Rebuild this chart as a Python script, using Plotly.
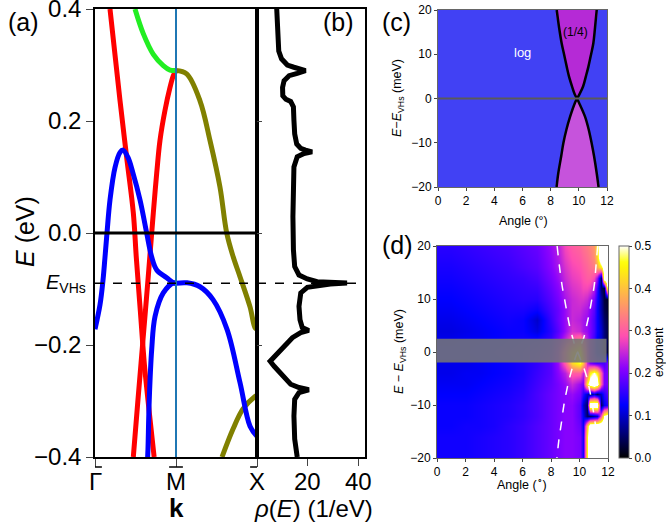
import plotly.graph_objects as go

FONT = "Liberation Sans, Arial, Helvetica, sans-serif"

# ---------------- (a) band structure (k path: Gamma=0, M=1, X=2) ----------------
K_TICKS = [0, 1, 2]
K_LABELS = ["\u0393", "M", "X"]
E_TICKS = [-0.4, -0.2, 0.0, 0.2, 0.4]
E_FERMI = 0.0
E_VHS = -0.0898
K_PATH = [0, 2]

K_RED_A = [0.185, 0.309, 0.391, 0.473, 0.51, 0.56, 0.61, 0.67, 0.73]
E_RED_A = [0.40, 0.236, 0.135, 0.036, -0.044, -0.14, -0.235, -0.32, -0.40]

K_RED_B = [0.473, 0.531, 0.593, 0.654, 0.70, 0.72, 0.762, 0.802, 0.864, 0.926, 0.967, 1.0]
E_RED_B = [-0.40, -0.297, -0.19, -0.084, 0.0, 0.036, 0.107, 0.165, 0.219, 0.26, 0.281, 0.29]

K_BLUE_1 = [0.0, 0.062, 0.099, 0.123, 0.148, 0.185, 0.247, 0.309, 0.346, 0.407, 0.469, 0.556,
            0.638, 0.70, 0.762, 0.885, 0.967, 1.0]
E_BLUE_1 = [-0.172, -0.128, -0.084, -0.044, 0.0, 0.059, 0.117, 0.144, 0.148, 0.135, 0.107, 0.059,
            0.0, -0.043, -0.066, -0.080, -0.089, -0.0898]

K_BLUE_2 = [1.0, 1.136, 1.296, 1.457, 1.630, 1.790, 1.914, 2.0]
E_BLUE_2 = [-0.0898, -0.089, -0.096, -0.119, -0.172, -0.267, -0.345, -0.363]

K_BLUE_3 = [1.0, 0.967, 0.843, 0.741, 0.700, 0.670, 0.654, 0.650]
E_BLUE_3 = [-0.0898, -0.089, -0.107, -0.149, -0.208, -0.297, -0.386, -0.40]

K_GREEN = [0.494, 0.596, 0.720, 0.843, 0.926, 1.0]
E_GREEN = [0.40, 0.356, 0.319, 0.299, 0.291, 0.29]

K_OLIVE_1 = [1.0, 1.132, 1.296, 1.42, 1.543, 1.626, 1.707, 1.790, 1.914, 1.975, 2.0]
E_OLIVE_1 = [0.29, 0.284, 0.236, 0.165, 0.082, 0.0, -0.043, -0.078, -0.132, -0.169, -0.172]

K_OLIVE_2 = [1.568, 1.704, 1.827, 1.975, 2.0]
E_OLIVE_2 = [-0.40, -0.350, -0.314, -0.292, -0.290]

# ---------------- (b) density of states ----------------
DOS_RHO = [7.8, 8.1, 8.6, 9.7, 12.0, 14.6, 17.3, 19.2, 15.9, 12.7, 10.7, 10.1, 10.2, 11.4, 13.3,
           14.4, 14.6, 14.9, 15.7, 17.3, 19.2, 21.8, 18.6, 15.9, 14.6, 14.4, 14.2, 14.4, 14.9,
           16.6, 19.9, 23.8, 29.0, 35.6, 29.0, 23.8, 19.9, 17.3, 16.6, 17.0, 17.9, 20.5, 17.3,
           14.0, 10.7, 7.5, 5.2, 6.8, 10.1, 13.3, 16.6, 20.5, 16.6, 14.9, 14.6, 14.9, 15.9]
DOS_E = [0.40, 0.355, 0.325, 0.311, 0.300, 0.296, 0.293, 0.290, 0.285, 0.281, 0.272, 0.260, 0.245,
         0.239, 0.235, 0.225, 0.201, 0.177, 0.159, 0.151, 0.148, 0.145, 0.142, 0.136, 0.118, 0.088,
         0.029, -0.030, -0.060, -0.075, -0.082, -0.087, -0.088, -0.0895, -0.091, -0.094, -0.097,
         -0.107, -0.131, -0.155, -0.169, -0.174, -0.178, -0.187, -0.202, -0.217, -0.229, -0.238,
         -0.255, -0.270, -0.276, -0.280, -0.285, -0.297, -0.327, -0.368, -0.40]
RHO_TICKS = [20, 40]
RHO_RANGE = [0, 42.7]

# ---------------- (c) phase diagram ----------------
E_UP = [0, 1, 2.7, 5, 7.2, 10, 12.5, 16, 20]
ANG_UP_LEFT = [9.87, 9.70, 9.52, 9.30, 9.14, 8.95, 8.78, 8.60, 8.43]
ANG_UP_RIGHT = [9.87, 10.05, 10.30, 10.50, 10.68, 10.87, 11.03, 11.15, 11.27]
E_DN = [0, -1, -4.1, -7, -10.1, -13, -16.9, -20]
ANG_DN_LEFT = [9.87, 9.72, 9.38, 9.12, 8.90, 8.75, 8.54, 8.42]
ANG_DN_RIGHT = [9.87, 10.02, 10.44, 10.70, 10.91, 11.08, 11.27, 11.40]
ANGLE_RANGE = [0, 12]

# ---------------- (d) exponent map ----------------
ANGLES_D = [0, 1, 2, 3, 4, 5, 6, 7, 8, 8.5, 9, 9.5, 10, 10.25, 10.5, 10.75, 11, 11.25, 11.5, 11.75, 12]
ENERGIES_D = [-20, -18, -16, -14, -12, -10, -8, -6, -4, -2, 0, 2, 4, 6, 8, 10, 12, 14, 16, 18, 20]
EXPONENT = [
    [.135, .135, .135, .14, .145, .15, .16, .175, .19, .2, .21, .21, .2, .14, .45, .6, .6, .6, .6, .6, .6],
    [.135, .135, .135, .14, .145, .15, .16, .175, .19, .2, .21, .21, .2, .14, .45, .6, .6, .6, .6, .6, .6],
    [.135, .135, .135, .14, .145, .15, .16, .175, .19, .2, .21, .21, .2, .14, .45, .6, .6, .6, .6, .6, .6],
    [.13, .13, .135, .135, .14, .15, .16, .175, .19, .2, .21, .21, .19, .13, .4, .6, .6, .6, .6, .6, .6],
    [.13, .13, .13, .135, .14, .145, .155, .17, .19, .2, .21, .21, .18, .12, .05, .05, .08, .1, .3, .5, .55],
    [.13, .13, .13, .135, .14, .145, .155, .17, .19, .2, .21, .21, .18, .1, .05, .6, .6, .6, .05, .12, .15],
    [.125, .125, .125, .13, .135, .14, .15, .17, .19, .2, .21, .22, .2, .15, .1, .05, .1, .05, .1, .15, .18],
    [.12, .12, .12, .125, .13, .135, .145, .165, .185, .2, .22, .25, .22, .2, .45, .55, .6, .55, .3, .2, .2],
    [.115, .115, .12, .12, .125, .13, .14, .16, .18, .21, .24, .3, .3, .25, .3, .45, .5, .45, .3, .2, .2],
    [.115, .115, .115, .12, .125, .13, .14, .155, .18, .22, .3, .42, .47, .4, .25, .2, .18, .17, .17, .17, .2],
    [.12, .12, .12, .125, .13, .135, .14, .15, .17, .22, .3, .4, .45, .35, .25, .2, .16, .12, .1, .06, .02],
    [.115, .115, .12, .12, .125, .13, .135, .14, .16, .2, .25, .3, .35, .3, .24, .2, .16, .12, .1, .06, .03],
    [.11, .11, .115, .12, .125, .13, .13, .11, .15, .18, .22, .26, .25, .23, .22, .2, .17, .13, .1, .06, .03],
    [.115, .115, .12, .125, .13, .135, .13, .1, .16, .19, .22, .25, .24, .23, .22, .2, .17, .13, .09, .05, .03],
    [.12, .12, .125, .13, .135, .14, .14, .13, .17, .19, .22, .25, .25, .24, .23, .21, .18, .13, .08, .04, .02],
    [.125, .125, .13, .135, .14, .145, .15, .15, .18, .2, .23, .25, .26, .26, .25, .23, .2, .14, .08, .03, .02],
    [.13, .13, .135, .14, .145, .15, .155, .16, .19, .21, .24, .26, .27, .28, .28, .27, .24, .16, .05, .03, .6],
    [.135, .135, .14, .145, .15, .155, .16, .17, .2, .22, .25, .27, .28, .29, .3, .3, .28, .22, .05, .6, .6],
    [.14, .14, .145, .15, .155, .16, .17, .18, .21, .23, .26, .28, .29, .3, .31, .32, .33, .38, .45, .55, .6],
    [.145, .145, .15, .155, .16, .165, .175, .185, .215, .235, .27, .29, .3, .31, .32, .33, .35, .42, .6, .6, .6],
    [.15, .15, .155, .16, .165, .17, .18, .19, .22, .24, .28, .3, .31, .32, .33, .34, .36, .44, .6, .6, .6],
]
EXCLUDED_E = [-2.0, 2.5]
EXCLUDED_ANGLE = [0, 11.9]
CBAR_TICKS = [0.0, 0.1, 0.2, 0.3, 0.4, 0.5]


def gnuplot2(x):
    r = x / 0.32 - 0.78125
    g = 2 * x - 0.84
    if x < 0.25:
        b = 4 * x
    elif x < 0.42:
        b = 1.0
    elif x < 0.92:
        b = -2 * x + 1.84
    else:
        b = x / 0.08 - 11.5
    c = [min(max(v, 0.0), 1.0) for v in (r, g, b)]
    return "rgb(%d,%d,%d)" % tuple(round(255 * v) for v in c)


COLORSCALE = [[i / 40, gnuplot2(i / 40)] for i in range(41)]

fig = go.Figure()

# ---- panel (a)
def band(k, e, color, width=5):
    fig.add_trace(go.Scatter(x=k, y=e, mode="lines", line=dict(color=color, width=width, shape="spline"),
                             xaxis="x", yaxis="y", showlegend=False, hoverinfo="skip"))

band(K_RED_A, E_RED_A, "#ff0000")
band(K_RED_B, E_RED_B, "#ff0000")
band(K_GREEN, E_GREEN, "#22ee22")
band(K_OLIVE_1, E_OLIVE_1, "#808000")
band(K_OLIVE_2, E_OLIVE_2, "#808000")
band(K_BLUE_1, E_BLUE_1, "#0000ff")
band(K_BLUE_3, E_BLUE_3, "#0000ff")
band(K_BLUE_2, E_BLUE_2, "#0000ff")

fig.add_trace(go.Scatter(x=[K_TICKS[1], K_TICKS[1]], y=[-0.4, 0.4], mode="lines",
                         line=dict(color="#1f77b4", width=2), xaxis="x", yaxis="y",
                         showlegend=False, hoverinfo="skip"))
fig.add_trace(go.Scatter(x=[K_TICKS[2], K_TICKS[2]], y=[-0.4, 0.4], mode="lines",
                         line=dict(color="#1f4e79", width=1.5), xaxis="x", yaxis="y",
                         showlegend=False, hoverinfo="skip"))
fig.add_trace(go.Scatter(x=K_PATH, y=[E_FERMI, E_FERMI], mode="lines",
                         line=dict(color="black", width=3), xaxis="x", yaxis="y",
                         showlegend=False, hoverinfo="skip"))
fig.add_trace(go.Scatter(x=K_PATH, y=[E_VHS, E_VHS], mode="lines",
                         line=dict(color="black", width=1.5, dash="dash"), xaxis="x", yaxis="y",
                         showlegend=False, hoverinfo="skip"))

# ---- panel (b)
fig.add_trace(go.Scatter(x=DOS_RHO, y=DOS_E, mode="lines", line=dict(color="black", width=5),
                         xaxis="x2", yaxis="y2", showlegend=False, hoverinfo="skip"))
fig.add_shape(type="line", xref="x2 domain", yref="y2", x0=0, x1=0.92, y0=E_VHS, y1=E_VHS,
              line=dict(color="black", width=1.5, dash="dash"))

# ---- panel (c)
fig.add_shape(type="rect", xref="x3 domain", yref="y3 domain", x0=0, x1=1, y0=0, y1=1,
              fillcolor="#4141f4", line=dict(width=0), layer="below")
fig.add_trace(go.Scatter(x=ANG_UP_LEFT + ANG_UP_RIGHT[::-1], y=E_UP + E_UP[::-1], fill="toself",
                         fillcolor="#b52ad6", mode="lines", line=dict(width=0, shape="spline"),
                         xaxis="x3", yaxis="y3", showlegend=False, hoverinfo="skip"))
fig.add_trace(go.Scatter(x=ANG_DN_LEFT + ANG_DN_RIGHT[::-1], y=E_DN + E_DN[::-1], fill="toself",
                         fillcolor="#c653dc", mode="lines", line=dict(width=0, shape="spline"),
                         xaxis="x3", yaxis="y3", showlegend=False, hoverinfo="skip"))
for xs, ys in [(ANG_UP_LEFT, E_UP), (ANG_UP_RIGHT, E_UP), (ANG_DN_LEFT, E_DN), (ANG_DN_RIGHT, E_DN)]:
    fig.add_trace(go.Scatter(x=xs, y=ys, mode="lines", line=dict(color="black", width=2.5, shape="spline"),
                             xaxis="x3", yaxis="y3", showlegend=False, hoverinfo="skip"))
fig.add_trace(go.Scatter(x=ANGLE_RANGE, y=[0, 0], mode="lines", line=dict(color="#5a5a5a", width=2),
                         xaxis="x3", yaxis="y3", showlegend=False, hoverinfo="skip"))

# ---- panel (d)
fig.add_trace(go.Heatmap(x=ANGLES_D, y=ENERGIES_D, z=EXPONENT, zmin=0, zmax=0.5, zsmooth="best",
                         colorscale=COLORSCALE, xaxis="x4", yaxis="y4", hoverinfo="skip",
                         colorbar=dict(x=619 / 666, xanchor="left", y=1 - 458 / 525, yanchor="bottom",
                                       len=212 / 525, lenmode="fraction", thickness=10,
                                       outlinecolor="#666", outlinewidth=1, xpad=0, ypad=0,
                                       tickvals=CBAR_TICKS, tickformat=".1f", ticks="outside",
                                       ticklen=3, tickfont=dict(size=12, family=FONT, color="black"))))
fig.add_trace(go.Scatter(x=ANG_UP_LEFT[::-1] + ANG_DN_RIGHT, y=E_UP[::-1] + E_DN, mode="lines",
                         line=dict(color="white", width=1.5, dash="dash", shape="spline"),
                         xaxis="x4", yaxis="y4", showlegend=False, hoverinfo="skip"))
fig.add_trace(go.Scatter(x=ANG_UP_RIGHT[::-1] + ANG_DN_LEFT, y=E_UP[::-1] + E_DN, mode="lines",
                         line=dict(color="white", width=1.5, dash="dash", shape="spline"),
                         xaxis="x4", yaxis="y4", showlegend=False, hoverinfo="skip"))
fig.add_shape(type="rect", xref="x4", yref="y4", x0=EXCLUDED_ANGLE[0], x1=EXCLUDED_ANGLE[1],
              y0=EXCLUDED_E[0], y1=EXCLUDED_E[1], fillcolor="rgba(118,118,118,0.88)",
              line=dict(width=0), layer="above")

# ---------------- layout ----------------
YA = [1 - 457 / 525, 1 - 9 / 525]
big = dict(size=24, family=FONT, color="black")
small = dict(size=12, family=FONT, color="black")

axis_common = dict(showgrid=False, zeroline=False, showline=True, mirror=True, linecolor="black",
                   automargin=False, ticklabeloverflow="allow")
axis_small = dict(showgrid=False, zeroline=False, showline=True, mirror=True, linecolor="#666",
                  linewidth=1, ticks="outside", ticklen=3, tickfont=small, automargin=False,
                  ticklabeloverflow="allow")

fig.update_layout(
    width=666, height=525, margin=dict(l=0, r=0, t=0, b=0, autoexpand=False),
    paper_bgcolor="white", plot_bgcolor="white", font=dict(family=FONT, color="black"),
    xaxis=dict(domain=[95 / 666, 257 / 666], range=[0, 2], tickvals=K_TICKS, showticklabels=False,
               ticks="outside", ticklen=8, linewidth=1.5, anchor="y", **axis_common),
    yaxis=dict(domain=YA, range=[-0.4, 0.4], tickvals=E_TICKS, tickformat=".1f",
               ticks="outside", ticklen=7, tickfont=big, linewidth=1.5, anchor="x", **axis_common),
    xaxis2=dict(domain=[257 / 666, 365 / 666], range=RHO_RANGE, tickvals=RHO_TICKS, ticks="outside",
                ticklen=7, showticklabels=False, linewidth=1.5, anchor="y2", **axis_common),
    yaxis2=dict(domain=YA, range=[-0.4, 0.4], tickvals=E_TICKS, ticks="inside",
                ticklen=5, showticklabels=False, linewidth=1.5, anchor="x2", **axis_common),
    xaxis3=dict(domain=[438 / 666, 607 / 666], range=ANGLE_RANGE, dtick=2, anchor="y3", **axis_small),
    yaxis3=dict(domain=[1 - 187 / 525, 1 - 10 / 525], range=[-20, 20], dtick=10, anchor="x3", **axis_small),
    xaxis4=dict(domain=[437 / 666, 608 / 666], range=ANGLE_RANGE, dtick=2, anchor="y4", **axis_small),
    yaxis4=dict(domain=[1 - 458 / 525, 1 - 246 / 525], range=[-20, 20], dtick=10, anchor="x4", **axis_small),
)

def px(x):
    return x / 666

def py(y):
    return 1 - y / 525

# bottom tick labels of (a) (with overlines) and (b), placed at their data positions
for k, lab in zip(K_TICKS, K_LABELS):
    fig.add_annotation(text=lab, x=k, xref="x", y=py(481), yref="paper", showarrow=False,
                       xanchor="center", yanchor="middle", font=big)
    fig.add_shape(type="line", xref="x", yref="paper", x0=k - 0.085, x1=k + 0.085,
                  y0=py(467), y1=py(467), line=dict(color="black", width=1.5))
for r in RHO_TICKS:
    fig.add_annotation(text=str(r), x=r, xref="x2", y=py(481), yref="paper", showarrow=False,
                       xanchor="center", yanchor="middle", font=big)

ann = [
    dict(text="(a)", x=px(6), y=py(22), xanchor="left", font=dict(size=25, family=FONT)),
    dict(text="(b)", x=px(356), y=py(22), xanchor="right", font=dict(size=25, family=FONT)),
    dict(text="(c)", x=px(380), y=py(22), xanchor="left", font=dict(size=25, family=FONT)),
    dict(text="(d)", x=px(380), y=py(245), xanchor="left", font=dict(size=25, family=FONT)),
    dict(text="<i>E</i> (eV)", x=px(25), y=py(232), textangle=-90, font=dict(size=25, family=FONT)),
    dict(text="<i>E</i><sub>VHs</sub>", x=px(88), y=py(283), xanchor="right", font=dict(size=20, family=FONT)),
    dict(text="<b>k</b>", x=px(176), y=py(508), font=dict(size=26, family=FONT)),
    dict(text="<i>\u03c1</i>(<i>E</i>) (1/eV)", x=px(313), y=py(508), font=dict(size=24, family=FONT)),
    dict(text="<i>E</i>\u2212<i>E</i><sub>VHs</sub> (meV)", x=px(398), y=py(98), textangle=-90,
         font=dict(size=12.5, family=FONT)),
    dict(text="Angle (\u00b0)", x=px(523), y=py(221), font=dict(size=12.5, family=FONT)),
    dict(text="<i>E</i> \u2212 <i>E</i><sub>VHs</sub> (meV)", x=px(400), y=py(352), textangle=-90,
         font=dict(size=12.5, family=FONT)),
    dict(text="Angle (<sup>\u2218</sup>)", x=px(522), y=py(484), font=dict(size=12.5, family=FONT)),
    dict(text="exponent", x=px(659), y=py(352), textangle=-90, font=dict(size=12, family=FONT)),
]
for a in ann:
    a.setdefault("xanchor", "center")
    a.setdefault("yanchor", "middle")
    a.update(xref="paper", yref="paper", showarrow=False)
    a["font"]["color"] = "black"
    fig.add_annotation(**a)

fig.add_annotation(text="log", x=6.0, y=10.3, xref="x3", yref="y3", showarrow=False,
                   font=dict(size=13, family=FONT, color="white"))
fig.add_annotation(text="(1/4)", x=9.75, y=15.0, xref="x3", yref="y3", showarrow=False,
                   font=dict(size=12, family=FONT, color="black"))

fig.write_html("out.html", config={"displayModeBar": False},
               post_script="document.body.style.margin='0px';document.body.style.overflow='hidden';")
